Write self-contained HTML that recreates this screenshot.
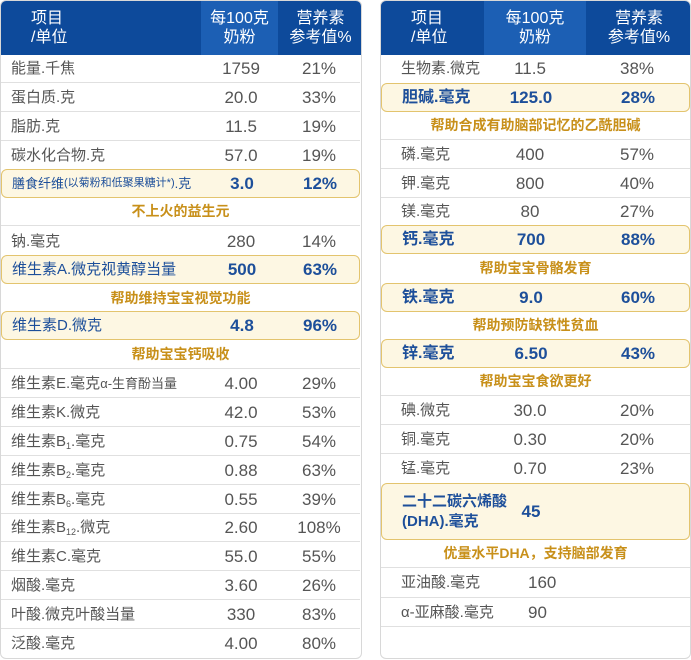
<!DOCTYPE html>
<html><head><meta charset="utf-8"><style>
*{margin:0;padding:0;box-sizing:border-box}
body{width:691px;height:660px;background:#fff;position:relative;overflow:hidden;font-family:"Liberation Sans","Noto Sans CJK SC",sans-serif;color:#555}
.t{position:absolute;border:1px solid #d8d8d8;border-radius:6px;overflow:hidden;background:#fff}
.h{position:absolute;top:0;height:54px;background:#0d4a9b;color:#fff;font-size:16px;line-height:19px;text-align:center;padding-top:8px}
.r{position:absolute;border-bottom:1px solid #e0e0e0;font-size:15px;white-space:nowrap}
.r span,.b span{position:absolute;top:0;bottom:0;display:flex;align-items:center;line-height:1}
.r .c,.b .c{width:90px;margin-left:-45px;justify-content:center;font-size:17px}
sub{font-size:9px;position:relative;top:5px}
.b{position:absolute;background:#fdf7e3;border:1.5px solid #e3c46e;border-radius:6px;color:#1d4f9a;font-weight:bold;font-size:16px;white-space:nowrap}
.s{position:absolute;border-bottom:1px solid #e0e0e0;color:#c8901a;font-weight:bold;font-size:14px;text-align:center}
</style></head><body>
<div class="t" style="left:0;top:0;width:362px;height:659px">
<div class="h" style="left:0;width:200px;text-align:left;padding-left:30px">项目<br>/单位</div>
<div class="h" style="left:200px;width:77px;background:#1c5fb4">每100克<br>奶粉</div>
<div class="h" style="left:277px;width:85px">营养素<br>参考值%</div>
</div>
<div class="t" style="left:380px;top:0;width:311px;height:659px">
<div class="h" style="left:0;width:103px;text-align:left;padding-left:30px">项目<br>/单位</div>
<div class="h" style="left:103px;width:102px;background:#1c5fb4">每100克<br>奶粉</div>
<div class="h" style="left:205px;width:106px">营养素<br>参考值%</div>
</div>

<!-- LEFT -->
<div class="r" style="left:1px;width:359px;top:54px;height:29px"><span style="left:10px">能量.千焦</span><span class="c" style="left:240px">1759</span><span class="c" style="left:318px">21%</span></div>
<div class="r" style="left:1px;width:359px;top:83px;height:29px"><span style="left:10px">蛋白质.克</span><span class="c" style="left:240px">20.0</span><span class="c" style="left:318px">33%</span></div>
<div class="r" style="left:1px;width:359px;top:112px;height:29px"><span style="left:10px">脂肪.克</span><span class="c" style="left:240px">11.5</span><span class="c" style="left:318px">19%</span></div>
<div class="r" style="left:1px;width:359px;top:141px;height:29px;border:none"><span style="left:10px">碳水化合物.克</span><span class="c" style="left:240px">57.0</span><span class="c" style="left:318px">19%</span></div>
<div class="b" style="left:1px;width:359px;top:169px;height:29px"><span style="left:10px;font-weight:normal;font-size:13px">膳食纤维<small style="font-size:11px">(以菊粉和低聚果糖计*)</small>.克</span><span class="c" style="left:240px">3.0</span><span class="c" style="left:318px">12%</span></div>
<div class="s" style="left:1px;width:359px;top:198px;height:28px;line-height:26px">不上火的益生元</div>
<div class="r" style="left:1px;width:359px;top:226px;height:30px;border:none"><span style="left:10px">钠.毫克</span><span class="c" style="left:240px">280</span><span class="c" style="left:318px">14%</span></div>
<div class="b" style="left:1px;width:359px;top:255px;height:29px"><span style="left:10px;font-weight:normal;font-size:15px">维生素A.微克视黄醇当量</span><span class="c" style="left:240px">500</span><span class="c" style="left:318px">63%</span></div>
<div class="s" style="left:1px;width:359px;top:284px;height:28px;line-height:28px;border:none">帮助维持宝宝视觉功能</div>
<div class="b" style="left:1px;width:359px;top:311px;height:29px"><span style="left:10px;font-weight:normal;font-size:15px">维生素D.微克</span><span class="c" style="left:240px">4.8</span><span class="c" style="left:318px">96%</span></div>
<div class="s" style="left:1px;width:359px;top:340px;height:29px;line-height:28px">帮助宝宝钙吸收</div>
<div class="r" style="left:1px;width:359px;top:369px;height:29px"><span style="left:10px">维生素E.毫克<small style="font-size:13px">α-生育酚当量</small></span><span class="c" style="left:240px">4.00</span><span class="c" style="left:318px">29%</span></div>
<div class="r" style="left:1px;width:359px;top:398px;height:29px"><span style="left:10px">维生素K.微克</span><span class="c" style="left:240px">42.0</span><span class="c" style="left:318px">53%</span></div>
<div class="r" style="left:1px;width:359px;top:427px;height:29px"><span style="left:10px">维生素B<sub>1</sub>.毫克</span><span class="c" style="left:240px">0.75</span><span class="c" style="left:318px">54%</span></div>
<div class="r" style="left:1px;width:359px;top:456px;height:29px"><span style="left:10px">维生素B<sub>2</sub>.毫克</span><span class="c" style="left:240px">0.88</span><span class="c" style="left:318px">63%</span></div>
<div class="r" style="left:1px;width:359px;top:485px;height:29px"><span style="left:10px">维生素B<sub>6</sub>.毫克</span><span class="c" style="left:240px">0.55</span><span class="c" style="left:318px">39%</span></div>
<div class="r" style="left:1px;width:359px;top:514px;height:28px"><span style="left:10px">维生素B<sub>12</sub>.微克</span><span class="c" style="left:240px">2.60</span><span class="c" style="left:318px">108%</span></div>
<div class="r" style="left:1px;width:359px;top:542px;height:29px"><span style="left:10px">维生素C.毫克</span><span class="c" style="left:240px">55.0</span><span class="c" style="left:318px">55%</span></div>
<div class="r" style="left:1px;width:359px;top:571px;height:29px"><span style="left:10px">烟酸.毫克</span><span class="c" style="left:240px">3.60</span><span class="c" style="left:318px">26%</span></div>
<div class="r" style="left:1px;width:359px;top:600px;height:29px"><span style="left:10px">叶酸.微克叶酸当量</span><span class="c" style="left:240px">330</span><span class="c" style="left:318px">83%</span></div>
<div class="r" style="left:1px;width:359px;top:629px;height:29px;border:none"><span style="left:10px">泛酸.毫克</span><span class="c" style="left:240px">4.00</span><span class="c" style="left:318px">80%</span></div>

<!-- RIGHT -->
<div class="r" style="left:381px;width:309px;top:54px;height:29px;border:none"><span style="left:20px">生物素.微克</span><span class="c" style="left:149px">11.5</span><span class="c" style="left:256px">38%</span></div>
<div class="b" style="left:381px;width:309px;top:83px;height:29px"><span style="left:20px">胆碱.毫克</span><span class="c" style="left:149px">125.0</span><span class="c" style="left:256px">28%</span></div>
<div class="s" style="left:381px;width:309px;top:112px;height:28px;line-height:26px">帮助合成有助脑部记忆的乙酰胆碱</div>
<div class="r" style="left:381px;width:309px;top:140px;height:29px"><span style="left:20px">磷.毫克</span><span class="c" style="left:149px">400</span><span class="c" style="left:256px">57%</span></div>
<div class="r" style="left:381px;width:309px;top:169px;height:29px"><span style="left:20px">钾.毫克</span><span class="c" style="left:149px">800</span><span class="c" style="left:256px">40%</span></div>
<div class="r" style="left:381px;width:309px;top:198px;height:27px;border:none"><span style="left:20px">镁.毫克</span><span class="c" style="left:149px">80</span><span class="c" style="left:256px">27%</span></div>
<div class="b" style="left:381px;width:309px;top:225px;height:29px"><span style="left:20px">钙.毫克</span><span class="c" style="left:149px">700</span><span class="c" style="left:256px">88%</span></div>
<div class="s" style="left:381px;width:309px;top:254px;height:29px;line-height:28px;border:none">帮助宝宝骨骼发育</div>
<div class="b" style="left:381px;width:309px;top:283px;height:29px"><span style="left:20px">铁.毫克</span><span class="c" style="left:149px">9.0</span><span class="c" style="left:256px">60%</span></div>
<div class="s" style="left:381px;width:309px;top:312px;height:27px;line-height:26px;border:none">帮助预防缺铁性贫血</div>
<div class="b" style="left:381px;width:309px;top:339px;height:29px"><span style="left:20px">锌.毫克</span><span class="c" style="left:149px">6.50</span><span class="c" style="left:256px">43%</span></div>
<div class="s" style="left:381px;width:309px;top:368px;height:28px;line-height:27px">帮助宝宝食欲更好</div>
<div class="r" style="left:381px;width:309px;top:396px;height:29px"><span style="left:20px">碘.微克</span><span class="c" style="left:149px">30.0</span><span class="c" style="left:256px">20%</span></div>
<div class="r" style="left:381px;width:309px;top:425px;height:29px"><span style="left:20px">铜.毫克</span><span class="c" style="left:149px">0.30</span><span class="c" style="left:256px">20%</span></div>
<div class="r" style="left:381px;width:309px;top:454px;height:28px;border:none"><span style="left:20px">锰.毫克</span><span class="c" style="left:149px">0.70</span><span class="c" style="left:256px">23%</span></div>
<div class="b" style="left:381px;width:309px;top:483px;height:57px"><span style="left:20px;font-size:15px;line-height:20px">二十二碳六烯酸<br>(DHA).毫克</span><span class="c" style="left:149px">45</span></div>
<div class="s" style="left:381px;width:309px;top:540px;height:28px;line-height:27px">优量水平DHA，支持脑部发育</div>
<div class="r" style="left:381px;width:309px;top:568px;height:30px"><span style="left:20px">亚油酸.毫克</span><span style="left:147px;font-size:17px">160</span></div>
<div class="r" style="left:381px;width:309px;top:598px;height:29px"><span style="left:20px">α-亚麻酸.毫克</span><span style="left:147px;font-size:17px">90</span></div>
</body></html>
